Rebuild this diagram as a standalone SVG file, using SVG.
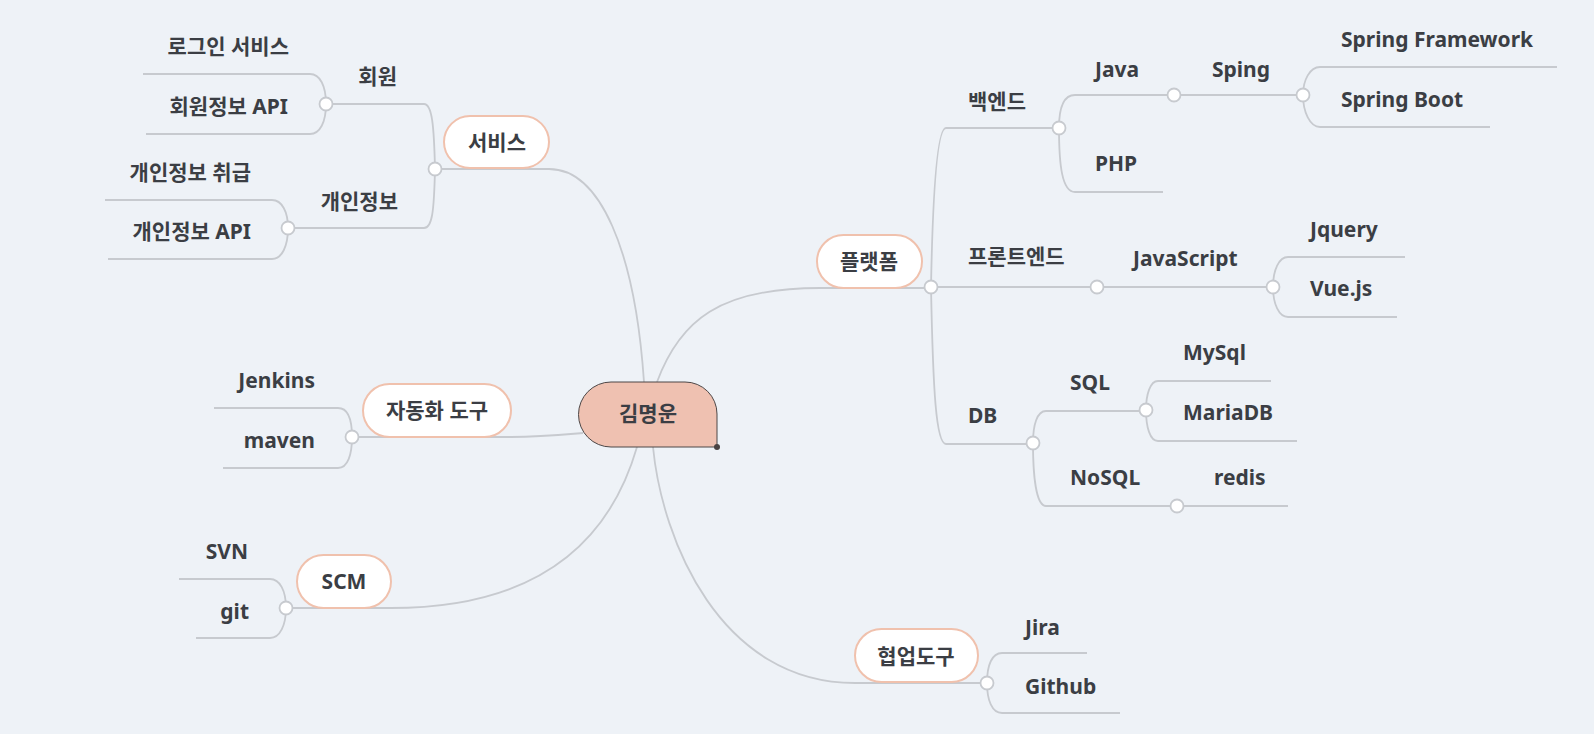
<svg xmlns="http://www.w3.org/2000/svg" width="1594" height="734" viewBox="0 0 1594 734">
<style>
.ln{fill:none;stroke:#C7CACF;stroke-width:1.8}
.dot{fill:#FFFFFF;stroke:#C7CACF;stroke-width:1.8}
.nd{fill:#FFFFFF;stroke:#F0C1AD;stroke-width:2}
.t{font-family:"Noto Sans","Noto Sans CJK KR",sans-serif;font-weight:700;font-size:21px;fill:#3B3E44}
.e{text-anchor:end}
.m{text-anchor:middle}
</style>
<rect x="0" y="0" width="1594" height="734" fill="#EEF2F7"/>
<g id="connectors">
<path class="ln" d="M 435,169 H 549 C 600,169 635,250 644,382"/>
<path class="ln" d="M 931,288 H 820 C 720,288 680,320 657,382"/>
<path class="ln" d="M 352,437 H 511 C 540,437 560,435 583,433"/>
<path class="ln" d="M 286,608 H 391 C 540,608 610,540 637,447"/>
<path class="ln" d="M 987,683 H 855 C 720,683 662,540 653,447"/>
<path class="ln" d="M 326,104 H 424 C 432,104 434,125 435,169 C 434,213 432,228 424,228 H 288"/>
<path class="ln" d="M 143,74 H 310 C 320,74 326,86 326,104 C 326,122 320,134 310,134 H 146"/>
<path class="ln" d="M 105,200 H 272 C 282,200 288,212 288,228 C 288,246 282,259 272,259 H 108"/>
<path class="ln" d="M 214,408 H 338 C 348,408 352,420 352,437 C 352,454 348,468 338,468 H 223"/>
<path class="ln" d="M 179,579 H 270 C 280,579 286,591 286,608 C 286,625 280,638 270,638 H 196"/>
<path class="ln" d="M 1059,128 H 946 C 938,128 933,180 931,287 C 933,390 936,444 946,444 H 1033"/>
<path class="ln" d="M 931,287 H 1273"/>
<path class="ln" d="M 1174,95 H 1075 C 1064,95 1059,108 1059,128 C 1059,165 1062,192 1075,192 H 1163"/>
<path class="ln" d="M 1174,95 H 1303"/>
<path class="ln" d="M 1557,67 H 1320 C 1310,67 1303,80 1303,95 C 1303,112 1310,127 1320,127 H 1490"/>
<path class="ln" d="M 1405,257 H 1288 C 1279,257 1273,270 1273,287 C 1273,304 1279,317 1288,317 H 1397"/>
<path class="ln" d="M 1146,411 H 1046 C 1037,411 1033,425 1033,443 C 1033,475 1036,506 1046,506 H 1288"/>
<path class="ln" d="M 1271,381 H 1158 C 1150,381 1146,395 1146,410 C 1146,427 1150,441 1158,441 H 1297"/>
<path class="ln" d="M 1087,653 H 1002 C 992,653 987,665 987,683 C 987,700 992,713 1002,713 H 1120"/>
<circle class="dot" cx="326" cy="104" r="6.5"/>
<circle class="dot" cx="435" cy="169" r="6.5"/>
<circle class="dot" cx="288" cy="228" r="6.5"/>
<circle class="dot" cx="352" cy="437" r="6.5"/>
<circle class="dot" cx="286" cy="608" r="6.5"/>
<circle class="dot" cx="931" cy="287" r="6.5"/>
<circle class="dot" cx="1059" cy="128" r="6.5"/>
<circle class="dot" cx="1174" cy="95" r="6.5"/>
<circle class="dot" cx="1303" cy="95" r="6.5"/>
<circle class="dot" cx="1097" cy="287" r="6.5"/>
<circle class="dot" cx="1273" cy="287" r="6.5"/>
<circle class="dot" cx="1033" cy="443" r="6.5"/>
<circle class="dot" cx="1146" cy="410" r="6.5"/>
<circle class="dot" cx="1177" cy="506" r="6.5"/>
<circle class="dot" cx="987" cy="683" r="6.5"/>
</g>
<g id="root">
<path d="M 611,382 H 685 A 32 32 0 0 1 717,414 V 447 H 611 A 32.5 32.5 0 0 1 611,382 Z" fill="#EFC1B1" stroke="#4D4747" stroke-width="1"/>
<circle cx="717" cy="447" r="3" fill="#4A4242"/>
<text class="t m" x="648" y="421">김명운</text>
</g>
<g id="service"><rect class="nd" x="444" y="116" width="105" height="52" rx="26"/><text class="t m" x="497" y="150">서비스</text></g>
<g id="member"><text class="t e" x="397" y="84">회원</text></g>
<g id="login"><text class="t e" x="289" y="54">로그인 서비스</text></g>
<g id="member-api"><text class="t e" x="288" y="114">회원정보 API</text></g>
<g id="privacy"><text class="t e" x="398" y="209">개인정보</text></g>
<g id="privacy-handle"><text class="t e" x="251" y="180">개인정보 취급</text></g>
<g id="privacy-api"><text class="t e" x="251" y="239">개인정보 API</text></g>
<g id="automation"><rect class="nd" x="363" y="384" width="148" height="53" rx="26.5"/><text class="t m" x="437" y="418">자동화 도구</text></g>
<g id="jenkins"><text class="t e" x="315" y="388">Jenkins</text></g>
<g id="maven"><text class="t e" x="315" y="448">maven</text></g>
<g id="scm"><rect class="nd" x="297" y="555" width="94" height="53" rx="26.5"/><text class="t m" x="344" y="589">SCM</text></g>
<g id="svn"><text class="t e" x="248" y="559">SVN</text></g>
<g id="git"><text class="t e" x="249" y="619">git</text></g>
<g id="platform"><rect class="nd" x="817" y="235" width="105" height="53" rx="26.5"/><text class="t m" x="869" y="269">플랫폼</text></g>
<g id="backend"><text class="t" x="968" y="109">백엔드</text></g>
<g id="java"><text class="t" x="1095" y="77">Java</text></g>
<g id="sping"><text class="t" x="1212" y="77">Sping</text></g>
<g id="spring-framework"><text class="t" x="1341" y="47">Spring Framework</text></g>
<g id="spring-boot"><text class="t" x="1341" y="107">Spring Boot</text></g>
<g id="php"><text class="t" x="1095" y="171">PHP</text></g>
<g id="frontend"><text class="t" x="968" y="264">프론트엔드</text></g>
<g id="javascript"><text class="t" x="1133" y="266">JavaScript</text></g>
<g id="jquery"><text class="t" x="1310" y="237">Jquery</text></g>
<g id="vue"><text class="t" x="1310" y="296">Vue.js</text></g>
<g id="db"><text class="t" x="968" y="423">DB</text></g>
<g id="sql"><text class="t" x="1070" y="390">SQL</text></g>
<g id="mysql"><text class="t" x="1183" y="360">MySql</text></g>
<g id="mariadb"><text class="t" x="1183" y="420">MariaDB</text></g>
<g id="nosql"><text class="t" x="1070" y="485">NoSQL</text></g>
<g id="redis"><text class="t" x="1214" y="485">redis</text></g>
<g id="collab"><rect class="nd" x="855" y="629" width="123" height="53" rx="26.5"/><text class="t m" x="916" y="664">협업도구</text></g>
<g id="jira"><text class="t" x="1025" y="635">Jira</text></g>
<g id="github"><text class="t" x="1025" y="694">Github</text></g>
</svg>
